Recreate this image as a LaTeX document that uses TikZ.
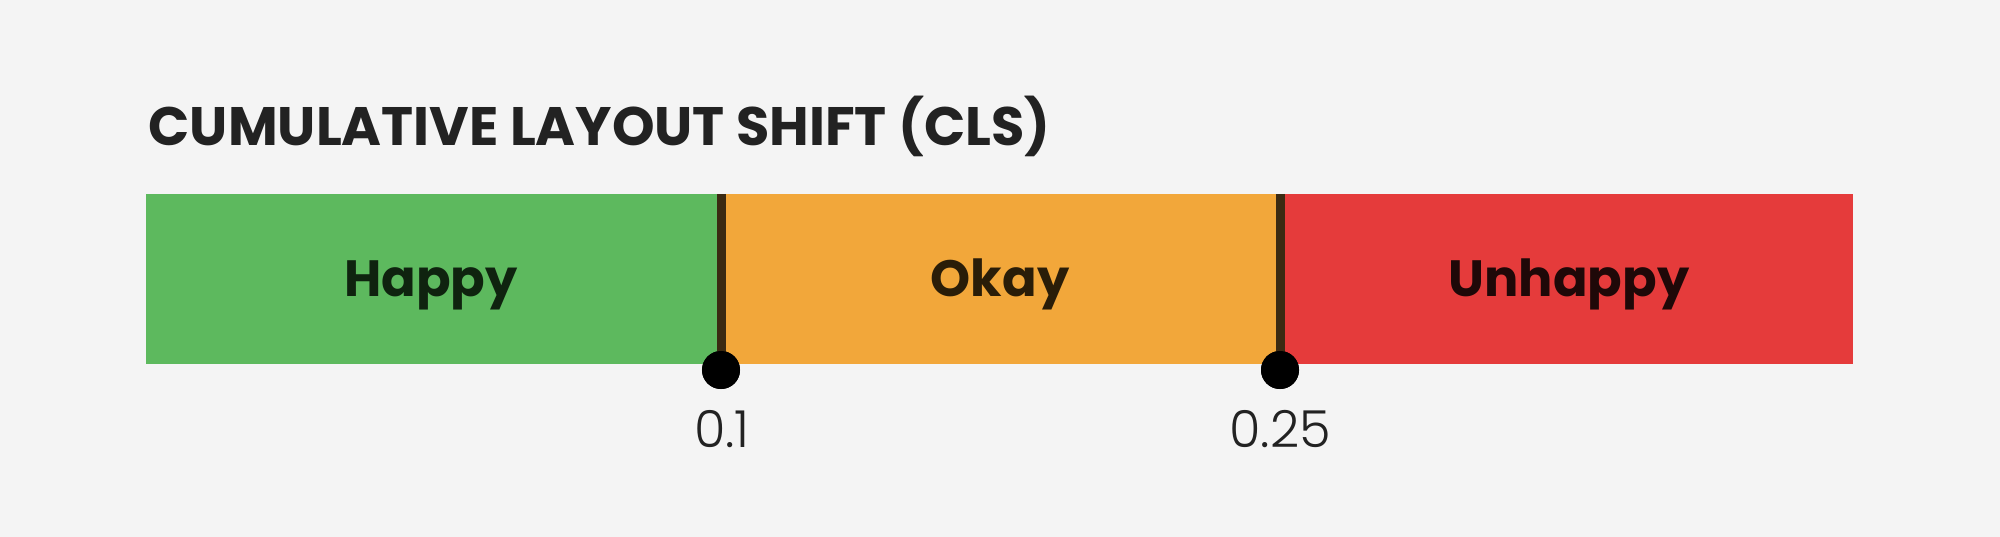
\documentclass[tikz,border=0pt]{standalone}
\usepackage{fontspec}
\setmainfont{Poppins}
\newfontfamily\lightfont{Poppins Light}
\definecolor{bg}{HTML}{F4F4F4}
\definecolor{cgreen}{HTML}{5DB95E}
\definecolor{corange}{HTML}{F2A73A}
\definecolor{cred}{HTML}{E53B3B}
\definecolor{cdiv}{HTML}{3B2A12}
\definecolor{ctitle}{HTML}{222222}
\definecolor{tgreen}{HTML}{0F230F}
\definecolor{torange}{HTML}{2A1D08}
\definecolor{tred}{HTML}{1F0808}
\begin{document}
\begin{tikzpicture}[x=0.01cm,y=-0.01cm,
  seg/.style={anchor=north west, minimum height=1.70cm, inner sep=0, outer sep=0, draw=none},
  seglabel/.style={anchor=base, font=\fontsize{14.5}{16}\selectfont\bfseries, inner sep=0},
  divider/.style={draw=cdiv, line width=0.09cm},
  dot/.style={circle, fill=black, minimum size=0.38cm, inner sep=0},
  tick/.style={anchor=base, font=\lightfont\fontsize{14.5}{16}\selectfont, text=ctitle, inner sep=0}]
\fill[bg] (0,0) rectangle (2000,537);
\useasboundingbox (0,0) rectangle (2000,537);
\node[anchor=base west, inner sep=0, text=ctitle, font=\fontsize{15.4}{17}\selectfont\bfseries] (title) at (148,146) {CUMULATIVE LAYOUT SHIFT (CLS)};
\node[seg, fill=cgreen, minimum width=5.74cm] (happy) at (146,194) {};
\node[seg, fill=corange, minimum width=5.60cm] (okay) at (720,194) {};
\node[seg, fill=cred, minimum width=5.73cm] (unhappy) at (1280,194) {};
\node[seglabel, text=tgreen] (lhappy) at (431,297) {Happy};
\node[seglabel, text=torange] (lokay) at (1000,297) {Okay};
\node[seglabel, text=tred] (lunhappy) at (1569,297) {Unhappy};
\node[dot] (d1) at (721,370) {};
\node[dot] (d2) at (1280,370) {};
\coordinate (t1) at (721,194);
\coordinate (t2) at (1280,194);
\draw[divider] (t1) -- (d1.center);
\draw[divider] (t2) -- (d2.center);
\node[dot] at (d1) {};
\node[dot] at (d2) {};
\node[tick] (v1) at (722,448) {0.1};
\node[tick] (v2) at (1280,448) {0.25};
\end{tikzpicture}
\end{document}
